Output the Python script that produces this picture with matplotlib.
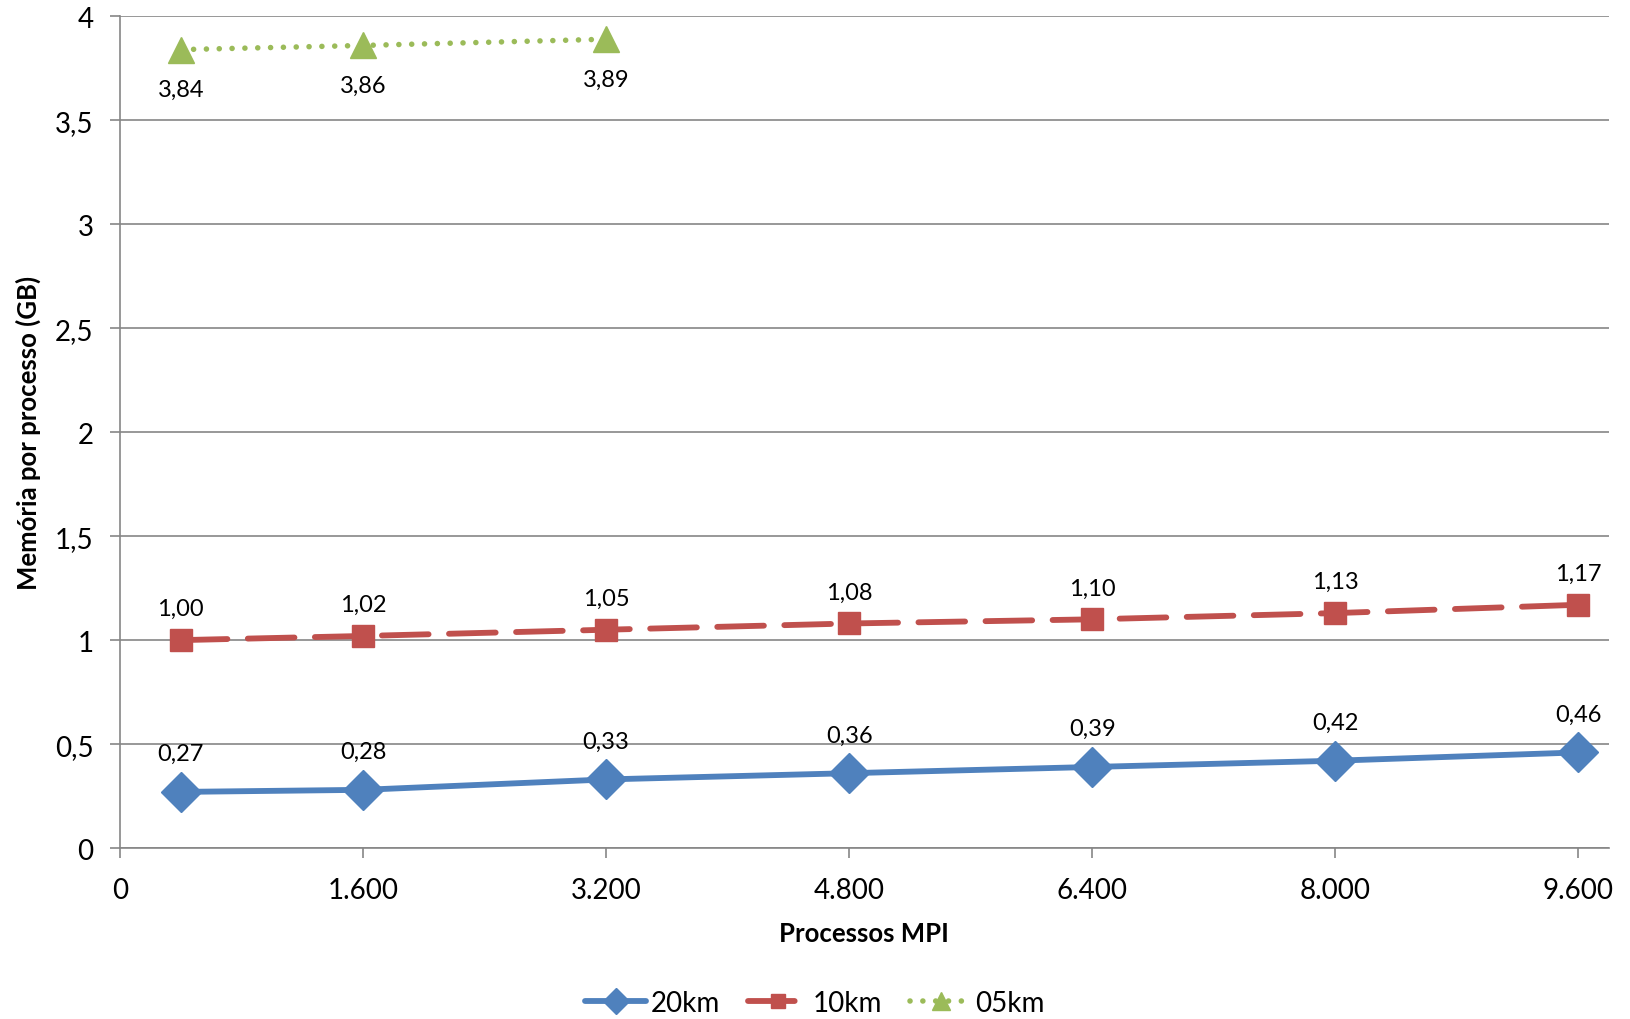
import matplotlib.pyplot as plt
from matplotlib.ticker import MultipleLocator, FuncFormatter

plt.rcParams['font.family'] = ['Lato', 'DejaVu Sans']

# Data
procs_20 = [400, 1600, 3200, 4800, 6400, 8000, 9600]
mem_20 = [0.27, 0.28, 0.33, 0.36, 0.39, 0.42, 0.46]
procs_10 = [400, 1600, 3200, 4800, 6400, 8000, 9600]
mem_10 = [1.00, 1.02, 1.05, 1.08, 1.10, 1.13, 1.17]
procs_05 = [400, 1600, 3200]
mem_05 = [3.84, 3.86, 3.89]

blue = '#4F81BD'
red = '#C0504D'
green = '#9BBB59'
grid = '#868686'


def br(v, fmt):
    return format(v, fmt).replace('.', ',')


fig = plt.figure(figsize=(16.3, 10.2), dpi=100)
ax = fig.add_axes([0.0736, 0.1676, 0.9134, 0.8154])

ax.plot(procs_20, mem_20, color=blue, lw=4.2, marker='D', ms=20,
        solid_capstyle='round', label='20km', zorder=3)
ax.plot(procs_10, mem_10, color=red, lw=4.2, marker='s', ms=16,
        dashes=(8, 3.5), dash_capstyle='round', label='10km', zorder=3)
ax.plot(procs_05, mem_05, color=green, lw=4.0, marker='^', ms=19,
        dashes=(0.01, 2.3), dash_capstyle='round', label='05km', zorder=3)

for x, y in zip(procs_20, mem_20):
    ax.annotate(br(y, '.2f'), (x, y), xytext=(0, 20), textcoords='offset points',
                ha='center', va='bottom', fontsize=17)
for x, y in zip(procs_10, mem_10):
    ax.annotate(br(y, '.2f'), (x, y), xytext=(0, 15), textcoords='offset points',
                ha='center', va='bottom', fontsize=17)
for x, y in zip(procs_05, mem_05):
    ax.annotate(br(y, '.2f'), (x, y), xytext=(0, -21), textcoords='offset points',
                ha='center', va='top', fontsize=17)

ax.set_xlim(0, 9800)
ax.set_ylim(0, 4)
ax.xaxis.set_major_locator(MultipleLocator(1600))
ax.yaxis.set_major_locator(MultipleLocator(0.5))
ax.xaxis.set_major_formatter(FuncFormatter(lambda v, p: f'{int(v):,}'.replace(',', '.')))
ax.yaxis.set_major_formatter(FuncFormatter(lambda v, p: ('%g' % v).replace('.', ',')))
ax.tick_params(axis='both', labelsize=20, length=7, width=1.2, color=grid)
ax.tick_params(axis='x', pad=14)
ax.tick_params(axis='y', pad=12)

ax.grid(True, axis='y', color=grid, lw=1.2)
ax.set_axisbelow(True)
for side in ['top', 'right']:
    ax.spines[side].set_visible(False)
for side in ['left', 'bottom']:
    ax.spines[side].set_color(grid)
    ax.spines[side].set_linewidth(1.2)

ax.set_xlabel('Processos MPI', fontsize=18.5, fontweight='bold', labelpad=13)
ax.set_ylabel('Memória por processo (GB)', fontsize=18.5, fontweight='bold', labelpad=10)

fig.legend(loc='center', bbox_to_anchor=(0.5, 0.016), ncol=3, frameon=False,
           fontsize=20, handlelength=2.2, columnspacing=1.0, handletextpad=0.15,
           markerscale=0.65, borderpad=0)

fig.savefig('out.png', dpi=100)
